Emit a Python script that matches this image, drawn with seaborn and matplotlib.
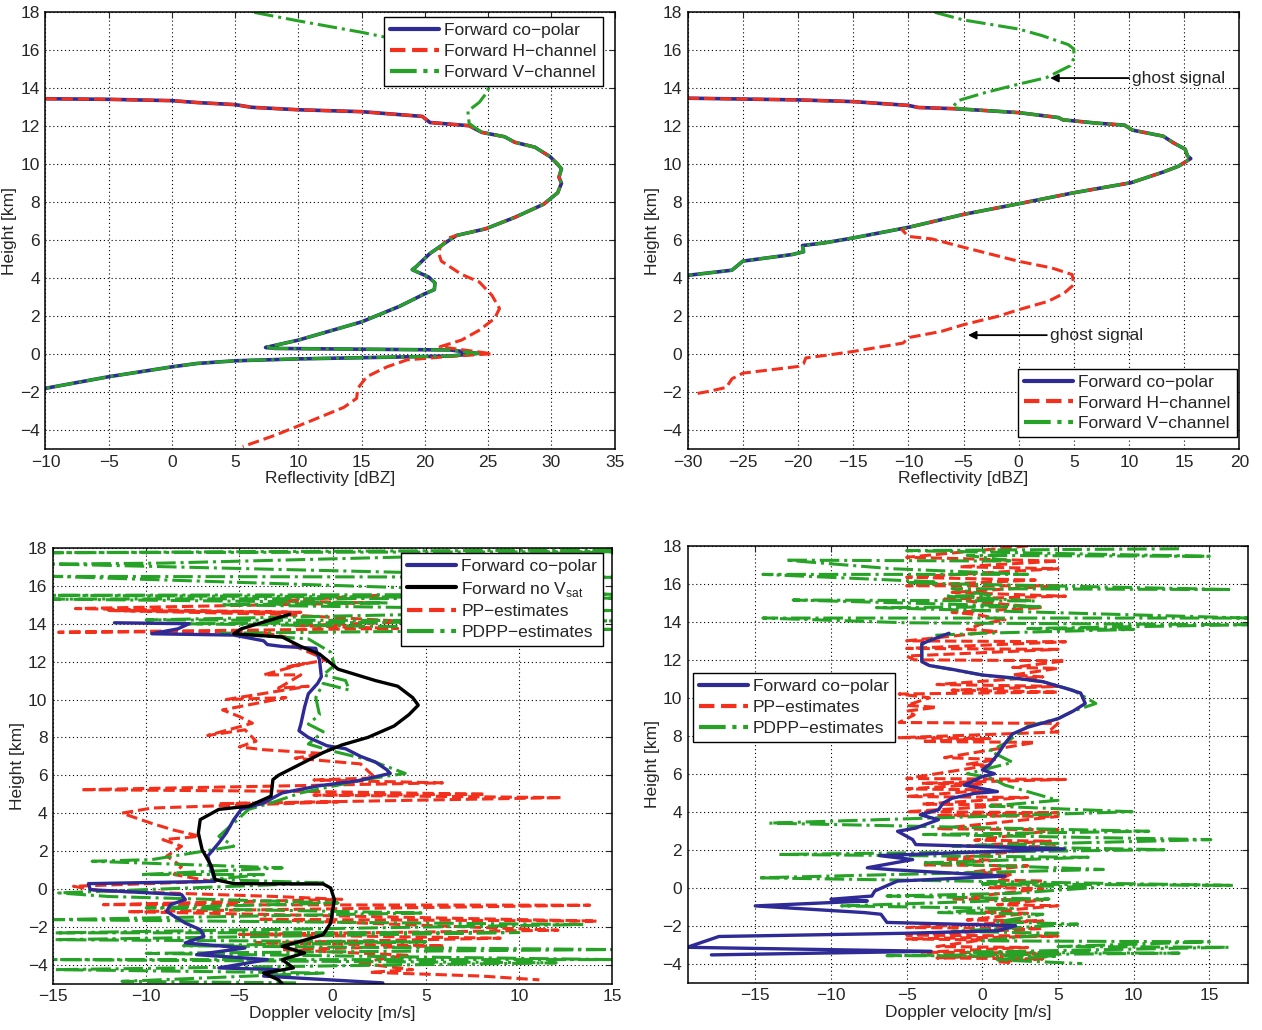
import pandas as pd
import matplotlib
matplotlib.use("Agg")
import matplotlib.pyplot as plt
import seaborn as sns

# ---------------- top-left: reflectivity, case A ----------------
# (dBZ, km) pairs, top of profile first
tl_shared_top = [(-10, 13.45), (-5, 13.42), (0, 13.35), (2, 13.25), (5, 13.14), (6.3, 13.0),
                 (10, 12.87), (15, 12.77), (19.8, 12.52), (20.4, 12.2), (23.5, 12.03)]
tl_shared_mid = [(24.5, 11.68), (26.3, 11.45), (27.1, 11.16), (28.7, 10.9), (29.9, 10.4),
                 (30.5, 10.0), (30.8, 9.76), (30.6, 9.32), (30.8, 9.0), (30.5, 8.5), (29.4, 7.9),
                 (27.1, 7.2), (24.8, 6.6), (22.5, 6.25)]
tl_copol_low = [(21.7, 5.9), (20.4, 5.3), (19.3, 4.6), (19.0, 4.45), (20.3, 4.06), (20.8, 3.75),
                (20.75, 3.4), (19.9, 3.15), (18.0, 2.52), (15.0, 1.7), (10.0, 0.74), (7.4, 0.35),
                (8.2, 0.3), (22.0, 0.22), (24.2, 0.04), (22.0, -0.1), (10.0, -0.25), (5.0, -0.35),
                (2.0, -0.49), (0.0, -0.67), (-5.0, -1.19), (-10.0, -1.8)]
tl_h_low = [(21.8, 6.1), (21.2, 5.6), (21.1, 5.3), (21.3, 4.9), (22.9, 4.2), (24.3, 3.8),
            (25.3, 3.1), (25.9, 2.4), (25.5, 1.87), (24.3, 1.26), (22.9, 0.74), (21.2, 0.39),
            (25.3, 0.02), (22.0, -0.12), (18.6, -0.3), (17.0, -0.67), (15.4, -1.19), (14.7, -1.8),
            (14.6, -2.33), (13.6, -2.8), (11.15, -3.47), (8.2, -4.26), (5.6, -4.87)]
tl_v_top = [(6.5, 18.0), (10, 17.55), (15, 16.95), (18.3, 16.5), (21.5, 15.6), (24.0, 14.8),
            (25.0, 14.2), (25.0, 13.87), (24.3, 13.26), (23.4, 12.8), (23.5, 12.15)]

# ---------------- top-right: reflectivity, case B ----------------
tr_shared_top = [(-30, 13.48), (-20, 13.39), (-15, 13.3), (-10, 13.1), (-9.1, 12.99), (-6, 12.93)]
tr_shared_mid = [(-5.0, 12.9), (0, 12.72), (3.6, 12.46), (4.0, 12.34), (7.2, 12.16), (9.6, 12.06),
                 (10.3, 11.8), (13.1, 11.48), (14, 11.14), (15.1, 10.79), (15.3, 10.44),
                 (15.6, 10.3), (14.5, 9.9), (13.1, 9.59), (10.2, 9.03), (5, 8.5), (0, 7.92),
                 (-5, 7.36), (-9.9, 6.69)]
tr_copol_low = [(-15, 6.12), (-17.6, 5.86), (-19.6, 5.72), (-19.5, 5.39), (-20.5, 5.25),
                (-25, 4.9), (-26, 4.42), (-30, 4.15)]
tr_h_low = [(-10.6, 6.56), (-10, 6.2), (-7.9, 6.07), (-5, 5.63), (0, 4.89), (3, 4.54), (4.85, 4.19),
            (5, 3.66), (4.1, 3.2), (2.66, 2.78), (0, 2.34), (-1.9, 1.99), (-5, 1.55), (-7, 1.2),
            (-9.9, 0.88), (-10.5, 0.58), (-15, 0.14), (-17.2, -0.04), (-19.3, -0.2), (-19.5, -0.5),
            (-20, -0.65), (-25, -1.0), (-26, -1.3), (-26.5, -1.75), (-28, -1.95), (-29.5, -2.11)]
tr_v_top = [(-7.6, 18), (-5, 17.6), (0, 17.12), (2.1, 16.78), (4.5, 16.3), (5, 16.07), (5, 15.58),
            (4.67, 15.19), (2.5, 14.56), (0, 14.22), (-3, 13.78), (-5.5, 13.35), (-6, 13.0)]
tr_ghost_text = [(10.3, 14.54), (2.85, 1.0)]
tr_ghost_head = [(2.85, 14.54), (-4.6, 1.0)]

# ---------------- bottom-left: Doppler velocity, case A ----------------
# (m/s, km) pairs
bl_copol = [(-11.7, 14.05), (-7.7, 14.0), (-8.3, 13.73), (-9.7, 13.47), (-5.3, 13.4), (-3.7, 13.1),
            (-3.5, 12.9), (-2.7, 12.8), (-0.9, 12.7), (-0.8, 12.35), (-0.7, 12.1), (-0.6, 11.2),
            (-0.8, 10.85), (-1.3, 10.3), (-1.5, 9.6), (-1.7, 8.7), (-1.8, 8.35), (-1.3, 8.0),
            (-0.3, 7.56), (0.7, 7.4), (1.5, 7.0), (2.3, 6.7), (2.9, 6.3), (3.1, 6.1), (1.3, 5.7),
            (-0.7, 5.45), (-2.7, 5.07), (-3.7, 4.54), (-4.9, 4.2), (-5.3, 3.66), (-5.7, 2.96),
            (-6.1, 2.43), (-6.7, 1.73), (-6.5, 1.02), (-6.3, 0.4), (-13.1, 0.28), (-13.0, -0.04),
            (-8.1, -0.3), (-7.9, -0.56), (-8.7, -0.83), (-8.9, -1.18), (-8.5, -1.44), (-7.9, -1.8),
            (-7.1, -2.15), (-6.9, -2.5), (-7.9, -2.85), (-4.7, -3.12), (-7.3, -3.47), (-3.5, -3.73),
            (-6.1, -4.17), (-2.9, -4.26), (-3.7, -4.6), (2.7, -4.96)]
bl_novsat = [(-2.3, 14.5), (-4.9, 13.73), (-5.3, 13.47), (-2.7, 13.3), (-1.7, 12.8), (-0.7, 12.4),
             (0.3, 11.6), (2.3, 11.0), (3.5, 10.7), (4.3, 10.1), (4.6, 9.7), (4.1, 9.2), (3.3, 8.6),
             (1.9, 8.0), (0.5, 7.6), (-0.5, 7.2), (-1.7, 6.6), (-2.9, 6.0), (-3.2, 5.77), (-3.3, 4.9),
             (-4.5, 4.37), (-6.1, 4.2), (-7.1, 3.66), (-7.2, 2.96), (-7.0, 2.08), (-6.5, 1.2),
             (-6.3, 0.49), (-5.3, 0.28), (-0.5, 0.26), (-0.1, 0.05), (0.1, -0.56), (-0.1, -1.8),
             (-0.5, -2.41), (-1.7, -2.76), (-2.7, -3.03), (-1.5, -3.38), (-2.7, -3.73), (-2.1, -4.17),
             (-3.7, -4.44), (-2.9, -4.8), (-2.7, -5.0)]
bl_pp = [(2.5, 15.5), (-3.0, 15.2), (2.0, 15.1), (-13.8, 14.8), (-1.7, 14.6), (-12.0, 14.7),
         (-3.0, 14.5), (4.3, 14.1), (-2.0, 13.9), (3.5, 13.75), (-14.7, 13.55), (-4.1, 13.6),
         (-2.5, 13.3), (-2.0, 12.8), (-0.3, 12.1), (-2.5, 11.7), (-1.5, 11.9), (-3.7, 11.3),
         (-1.7, 11.3), (-2.9, 10.6), (-1.3, 10.7), (-5.7, 10.0), (-2.5, 10.1), (-5.9, 9.45),
         (-5.0, 9.1), (-4.3, 8.75), (-6.7, 8.1), (-4.7, 8.4), (-4.1, 7.8), (-5.0, 7.5), (-3.7, 7.35),
         (-0.5, 7.15), (-2.0, 6.9), (1.5, 6.6), (2.3, 5.86), (-1.0, 5.75), (5.9, 5.6), (-2.0, 5.45),
         (-13.5, 5.24), (-1.7, 5.15), (8.2, 5.0), (-1.0, 4.95), (12.3, 4.82), (-6.1, 4.5), (0.3, 4.6),
         (-9.7, 4.27), (-11.3, 4.0), (-9.7, 3.46), (-8.5, 3.1), (-7.1, 2.78), (-9.1, 2.6),
         (-8.1, 2.25), (-8.9, 1.73), (-8.1, 1.2), (-8.5, 0.76), (-6.5, 0.4), (-13.9, 0.14),
         (-12.5, -0.1), (-3.0, -0.4), (0.5, -0.55), (-12.3, -0.83), (13.8, -0.86), (-11.0, -1.2),
         (14.2, -1.7), (-4.0, -1.6), (12.1, -2.18), (-5.0, -2.4), (9.0, -2.6), (-4.1, -2.85),
         (6.0, -3.0), (-2.7, -3.2), (4.0, -3.5), (1.3, -3.9), (4.3, -4.26), (2.0, -4.4), (8.0, -4.6),
         (11.1, -4.8)]
bl_pdpp = [(15, 17.9), (-15, 17.75), (15, 17.8), (-9.1, 17.2), (-15, 17.15), (15, 16.45),
           (-15, 16.5), (15, 15.55), (-15, 15.5), (15, 15.35), (-15, 15.3), (3, 15.1), (-6, 15.0),
           (15, 14.7), (-10, 14.2), (15, 14.15), (-8, 14.0), (15, 13.7), (-6, 13.5), (-1.3, 13.2),
           (-0.1, 12.5), (0.1, 11.8), (-0.5, 11.3), (0.7, 11.0), (0.9, 10.5), (-0.5, 10.85),
           (-0.9, 10.1), (-0.7, 9.2), (-1.3, 8.7), (-0.5, 8.3), (-1.3, 7.65), (-0.1, 7.3), (2.0, 6.8),
           (3.9, 6.1), (1.7, 5.77), (-1.7, 5.07), (-3.3, 4.54), (-4.5, 4.2), (-5.3, 3.48), (-6.1, 2.78),
           (-5.3, 2.25), (-9.7, 1.55), (-12.9, 1.46), (-2.7, 1.11), (-10.3, 0.76), (-3.7, 0.76),
           (-6.5, 0.5), (-0.5, 0.32), (-14.7, -0.21), (-12.0, -0.4), (0.3, -0.74), (-10, -1.0),
           (4.9, -1.27), (-14.9, -1.62), (13.5, -1.88), (-14.9, -2.32), (10.0, -2.3), (-14.9, -2.68),
           (5.0, -2.8), (-8.0, -3.0), (15, -3.2), (-10.0, -3.4), (15, -3.73), (-14.9, -3.73),
           (12.0, -3.9), (-14.9, -4.26), (-0.5, -4.44), (-11.3, -4.88), (-1.7, -4.96)]

# ---------------- bottom-right: Doppler velocity, case B ----------------
br_copol = [(-2.2, 13.4), (-3.2, 13.1), (-4.0, 12.85), (-4.0, 12.3), (-4.0, 11.9), (-3.5, 11.7),
            (-2.0, 11.5), (0.0, 11.2), (2.0, 11.05), (4.0, 10.85), (5.5, 10.5), (6.5, 10.25),
            (6.8, 9.7), (6.0, 9.3), (5.0, 8.9), (3.0, 8.45), (2.0, 8.1), (1.5, 7.6), (1.0, 7.0),
            (0.5, 6.5), (0.0, 6.2), (0.8, 6.0), (0.0, 5.85), (-1.2, 5.4), (1.0, 5.06), (-0.5, 4.97),
            (-2.0, 4.71), (-2.6, 4.45), (-2.9, 4.1), (-4.1, 3.84), (-2.9, 3.58), (-4.4, 3.14),
            (-5.6, 2.97), (-4.6, 2.53), (-4.4, 2.27), (5.4, 2.04), (-6.8, 1.69), (-4.6, 1.48),
            (-7.6, 1.05), (-6.0, 0.95), (1.5, 0.61), (-5.6, 0.35), (-7.1, -0.17), (-7.3, -0.44),
            (-10.0, -0.61), (-7.6, -0.7), (-15.0, -0.96), (-7.8, -1.31), (-6.7, -1.4), (-6.3, -1.83),
            (2.2, -2.0), (1.0, -2.27), (-5.0, -2.4), (-17.4, -2.57), (-19.5, -3.14), (-3.4, -3.35),
            (-17.9, -3.54)]
br_pp = [(3.0, 18.0), (-5.0, 17.4), (5.0, 17.2), (-1.5, 16.9), (5.0, 16.8), (-5.0, 16.35),
         (3.5, 16.2), (-5.0, 15.9), (5.0, 15.9), (-2.0, 15.55), (5.5, 15.35), (-2.5, 15.2),
         (4.0, 14.75), (-2.0, 14.5), (-0.5, 14.4), (1.5, 14.1), (0.0, 13.9), (-1.0, 13.6), (1.0, 13.5),
         (-5.0, 13.0), (5.5, 12.95), (-5.0, 12.6), (5.0, 12.55), (-5.0, 12.2), (-4.5, 12.0),
         (5.5, 11.95), (2.0, 11.6), (5.0, 11.55), (2.0, 11.2), (4.0, 11.1), (-3.0, 10.7), (5.0, 10.6),
         (-2.0, 10.4), (5.0, 10.3), (-5.5, 10.2), (-3.5, 10.0), (-5.0, 9.6), (-3.0, 9.5), (-5.0, 9.3),
         (-4.5, 9.1), (-5.5, 8.7), (5.0, 8.65), (4.5, 8.3), (5.0, 8.2), (-5.5, 7.9), (0.5, 7.85),
         (-4.0, 7.7), (3.5, 7.65), (-2.5, 6.85), (1.0, 6.75), (-1.0, 6.5), (0.5, 6.45), (-5.0, 5.75),
         (5.5, 5.7), (-4.0, 5.5), (0.0, 5.45), (-5.0, 5.2), (0.5, 5.15), (-5.0, 4.8), (3.0, 4.75),
         (-4.0, 4.4), (2.0, 4.35), (-5.0, 4.0), (5.0, 3.95), (-3.0, 3.8), (5.0, 3.75), (-3.0, 3.1),
         (5.0, 3.05), (-0.5, 2.5), (4.5, 2.45), (-1.0, 2.2), (5.0, 2.15), (-2.5, 1.5), (1.0, 1.45),
         (-4.0, 1.2), (3.0, 1.15), (-1.0, 0.8), (2.0, 0.75), (1.0, 0.4), (4.0, 0.35), (0.5, 0.0),
         (4.0, -0.05), (-2.0, -0.6), (4.0, -0.65), (1.0, -0.9), (5.0, -0.95), (0.0, -1.3),
         (3.0, -1.35), (-1.0, -1.7), (4.0, -1.75), (-5.0, -2.1), (4.0, -2.15), (-5.0, -2.5),
         (5.0, -2.55), (-5.0, -2.7), (0.0, -2.75), (-3.0, -3.1), (3.0, -3.15), (-4.0, -3.4),
         (5.0, -3.45), (-3.0, -3.7), (4.0, -3.75), (1.0, -3.9), (2.0, -3.95)]
br_pdpp = [(13.0, 17.85), (-5.0, 17.75), (15.0, 17.45), (-1.0, 17.5), (2.0, 17.2), (-13.0, 17.25),
           (-6.0, 16.8), (3.0, 16.5), (-14.5, 16.5), (-3.0, 16.1), (-5.0, 16.05), (16.5, 15.7),
           (-2.0, 15.75), (0.5, 15.4), (-2.5, 15.35), (3.5, 15.1), (-12.5, 15.15), (4.0, 14.8),
           (-7.0, 14.75), (17.5, 14.2), (-14.5, 14.2), (-5.0, 13.95), (17.5, 13.85), (3.0, 13.65),
           (10.0, 13.6), (0.0, 13.4), (-3.0, 13.3), (-4.0, 12.8), (-4.0, 11.9), (-3.5, 11.7),
           (0.0, 11.2), (4.0, 10.85), (6.0, 10.4), (7.5, 9.7), (6.0, 9.3), (5.0, 8.9), (3.0, 8.5),
           (1.5, 7.6), (0.5, 7.2), (2.0, 6.6), (-1.0, 6.0), (0.5, 5.8), (1.5, 5.4), (5.0, 4.6),
           (0.5, 4.3), (9.9, 4.0), (-14.1, 3.4), (11.0, 2.97), (-3.9, 2.8), (15.1, 2.53), (-2.0, 2.2),
           (12.2, 2.0), (-13.5, 1.75), (7.0, 1.6), (-4.0, 1.3), (8.0, 0.96), (-14.8, 0.52),
           (16.6, 0.12), (0.0, 0.2), (7.3, 0.0), (2.0, -0.3), (-6.3, -0.44), (4.4, -0.6), (-9.3, -0.96),
           (2.0, -1.1), (-2.9, -1.31), (4.0, -1.4), (1.0, -1.8), (6.3, -1.92), (-2.0, -2.3),
           (5.0, -2.4), (0.0, -2.8), (15.0, -2.85), (5.0, -3.1), (16.3, -3.14), (-1.0, -3.4),
           (13.0, -3.45), (-6.3, -3.58), (5.0, -3.6), (1.0, -3.8), (6.6, -4.0)]

BLUE = "#2e2a96"
RED = "#f2301c"
GREEN = "#26a326"
BLACK = "#000000"


def to_frame(*parts):
  """Join (x, height) pair lists into one ordered DataFrame."""
  rows = [p for part in parts for p in part]
  return pd.DataFrame(rows, columns=["x", "height"])


def draw(ax, df, color, ls, label, lw=2.2):
  sns.lineplot(data=df, x="x", y="height", sort=False, estimator=None, color=color,
               linestyle=ls, linewidth=lw, label=label, ax=ax, legend=False)
  return ax.get_lines()[-1]


def style_axes(ax, xlim, xticks, xlabel):
  ax.set_xlim(*xlim)
  ax.set_ylim(-5, 18)
  ax.set_xticks(xticks)
  ax.set_yticks(range(-4, 19, 2))
  ax.grid(True, color="k", linestyle=(0, (1, 2.5)), linewidth=0.8)
  ax.tick_params(direction="in", length=4, top=True, right=True, labelsize=12.5, pad=4)
  for s in ax.spines.values():
    s.set_color("k")
    s.set_linewidth(1.1)
  ax.set_xlabel(xlabel, fontsize=12.5, labelpad=1)
  ax.set_ylabel("Height [km]", fontsize=12.5, labelpad=2)


def add_legend(ax, handles, **kw):
  leg = ax.legend(handles=handles, fontsize=12.5, frameon=True, fancybox=False,
                  edgecolor="k", framealpha=1, handlelength=2.8, handletextpad=0.3,
                  borderpad=0.35, labelspacing=0.32, borderaxespad=0, **kw)
  leg.get_frame().set_linewidth(1.0)
  for line in leg.get_lines():
    line.set_linewidth(3.0)
  return leg


def main():
  sns.set_style("white")
  plt.rcParams["font.family"] = ["Liberation Sans", "DejaVu Sans"]
  plt.rcParams["axes.unicode_minus"] = True

  fig = plt.figure(figsize=(12.62, 10.30), dpi=100)
  ax_tl = fig.add_axes([0.036, 0.564, 0.451, 0.424])
  ax_tr = fig.add_axes([0.545, 0.564, 0.437, 0.424])
  ax_bl = fig.add_axes([0.042, 0.045, 0.443, 0.423])
  ax_br = fig.add_axes([0.545, 0.046, 0.444, 0.424])

  # top-left
  h1 = draw(ax_tl, to_frame(tl_shared_top, tl_shared_mid, tl_copol_low), BLUE, "-", "Forward co\u2212polar", 2.6)
  h2 = draw(ax_tl, to_frame(tl_shared_top, tl_shared_mid, tl_h_low), RED, "--", "Forward H\u2212channel")
  h3 = draw(ax_tl, to_frame(tl_v_top, tl_shared_mid, tl_copol_low), GREEN, "-.", "Forward V\u2212channel")
  style_axes(ax_tl, (-10, 35), range(-10, 36, 5), "Reflectivity [dBZ]")
  add_legend(ax_tl, [h1, h2, h3], loc="upper right", bbox_to_anchor=(0.979, 0.989))

  # top-right
  h1 = draw(ax_tr, to_frame(tr_shared_top, tr_shared_mid, tr_copol_low), BLUE, "-", "Forward co\u2212polar", 2.6)
  h2 = draw(ax_tr, to_frame(tr_shared_top, tr_shared_mid, tr_h_low), RED, "--", "Forward H\u2212channel")
  h3 = draw(ax_tr, to_frame(tr_v_top, tr_shared_mid, tr_copol_low), GREEN, "-.", "Forward V\u2212channel")
  style_axes(ax_tr, (-30, 20), range(-30, 21, 5), "Reflectivity [dBZ]")
  add_legend(ax_tr, [h1, h2, h3], loc="lower right", bbox_to_anchor=(0.995, 0.027))
  for (tx, ty), (hx, hy) in zip(tr_ghost_text, tr_ghost_head):
    ax_tr.annotate("ghost signal", xy=(hx, hy), xytext=(tx, ty), fontsize=12.5,
                   va="center", ha="left",
                   arrowprops=dict(arrowstyle="-|>", color="k", lw=1.3, mutation_scale=12,
                                   shrinkA=0, shrinkB=0))

  # bottom-left
  h3 = draw(ax_bl, to_frame(bl_pp), RED, "--", "PP\u2212estimates")
  h4 = draw(ax_bl, to_frame(bl_pdpp), GREEN, "-.", "PDPP\u2212estimates")
  h1 = draw(ax_bl, to_frame(bl_copol), BLUE, "-", "Forward co\u2212polar", 2.4)
  h2 = draw(ax_bl, to_frame(bl_novsat), BLACK, "-", r"Forward no V$_{\mathregular{sat}}$", 2.4)
  style_axes(ax_bl, (-15, 15), range(-15, 16, 5), "Doppler velocity [m/s]")
  add_legend(ax_bl, [h1, h2, h3, h4], loc="upper right", bbox_to_anchor=(0.984, 0.989))

  # bottom-right
  h2 = draw(ax_br, to_frame(br_pp), RED, "--", "PP\u2212estimates")
  h3 = draw(ax_br, to_frame(br_pdpp), GREEN, "-.", "PDPP\u2212estimates")
  h1 = draw(ax_br, to_frame(br_copol), BLUE, "-", "Forward co\u2212polar", 2.4)
  style_axes(ax_br, (-19.46, 17.56), range(-15, 16, 5), "Doppler velocity [m/s]")
  add_legend(ax_br, [h1, h2, h3], loc="upper left", bbox_to_anchor=(0.009, 0.709))

  fig.savefig("out.png", dpi=100)


if __name__ == "__main__":
  main()
